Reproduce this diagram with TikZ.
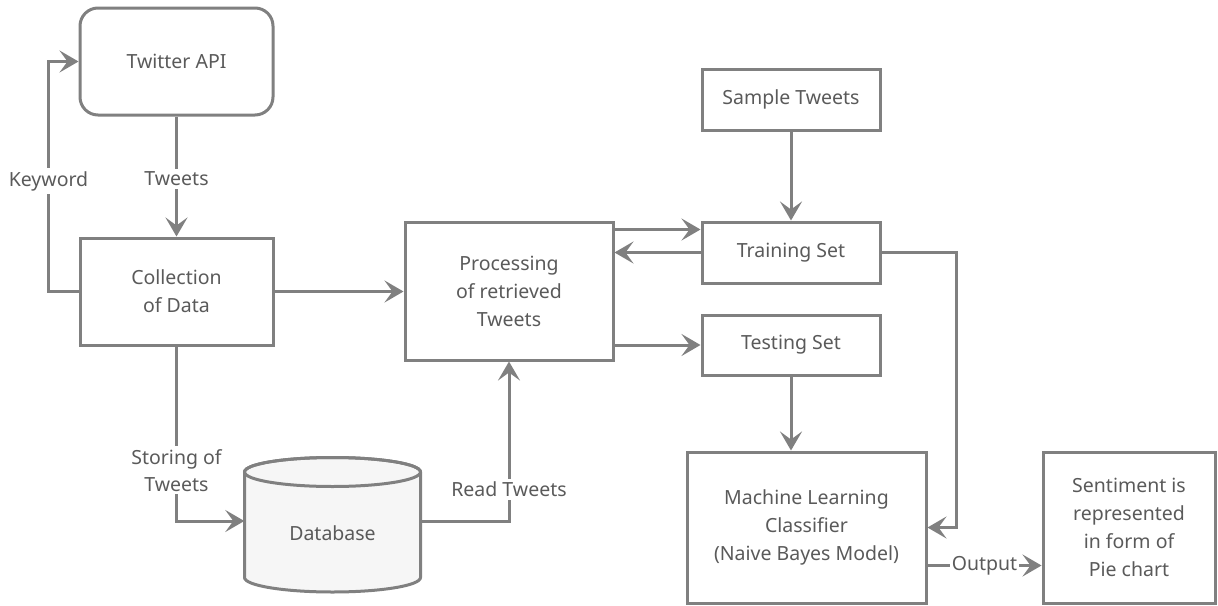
\documentclass[tikz,border=0pt]{standalone}
\usepackage{fontspec}
\setmainfont{Noto Sans}
\usetikzlibrary{arrows.meta}
\definecolor{linec}{HTML}{808080}
\definecolor{textc}{HTML}{5A5A5A}
\definecolor{dbfill}{HTML}{F6F6F6}
\begin{document}
\begin{tikzpicture}[x=1pt,y=-1pt,
  box/.style={draw=linec, line width=3pt, fill=white, text=textc, align=center,
    font=\fontsize{19.5}{28}\selectfont, inner sep=0pt},
  arr/.style={draw=linec, line width=3pt, -{Stealth[length=19pt,width=22pt,inset=8pt]}},
  ln/.style={draw=linec, line width=3pt},
  lbl/.style={fill=white, text=textc, align=center, font=\fontsize{19.5}{27}\selectfont, inner sep=3pt}
]
\useasboundingbox (0,0) rectangle (1218,605);

\node[box, rounded corners=18pt, minimum width=193pt, minimum height=107pt] (api) at (176.5,61.5) {Twitter API};
\node[box, minimum width=193pt, minimum height=107pt] (coll) at (176.5,291.5) {Collection\\of Data};
\node[box, minimum width=208pt, minimum height=138pt] (proc) at (509,291) {Processing\\of retrieved\\Tweets};
\node[box, minimum width=178pt, minimum height=61pt] (sample) at (791,99.5) {Sample Tweets};
\node[box, minimum width=178pt, minimum height=61pt] (train) at (791,252.5) {Training Set};
\node[box, minimum width=178pt, minimum height=60pt] (test) at (791,345) {Testing Set};
\node[box, minimum width=239pt, minimum height=151pt] (ml) at (806.5,527.5) {Machine Learning\\Classifier\\(Naive Bayes Model)};
\node[box, minimum width=172pt, minimum height=151pt] (sent) at (1129,527.5) {Sentiment is\\represented\\in form of\\Pie chart};

% database cylinder
\draw[ln, fill=dbfill] (244.5,472) -- (244.5,577.5)
  arc[start angle=180, end angle=0, x radius=88, y radius=14.5]
  -- (420.5,472)
  arc[start angle=0, end angle=-180, x radius=88, y radius=14.5] -- cycle;
\draw[ln] (332.5,472) ellipse[x radius=88, y radius=14.5];
\node[text=textc, font=\fontsize{19.5}{28}\selectfont, minimum width=176pt, inner sep=0pt] (db) at (332.5,533) {Database};

% connectors
\draw[arr] (coll.west) -- ++(-30,0) |- (api.west) node[lbl, pos=0.24] {Keyword};
\draw[arr] (api.south) -- (coll.north) node[lbl, pos=0.52] {Tweets};
\draw[arr] (coll.east) -- (coll.east -| proc.west);
\draw[arr] (sample.south) -- (train.north);
\draw[arr] ([yshift=-9pt]proc.north east) -- ([yshift=-9pt]train.north west);
\draw[arr] (train.west) -- (train.west -| proc.east);
\draw[arr] (test.west -| proc.east) -- (test.west);
\draw[arr] (train.east) -- ++(75,0) |- (ml.east);
\draw[arr] (test.south) -- (test.south |- ml.north);
\draw[arr] ([yshift=-38pt]ml.east) -- ([yshift=-38pt]sent.west) node[lbl, pos=0.5, inner sep=2pt] {Output};
\draw[arr] (coll.south) |- ([yshift=12pt]db.west) node[lbl, pos=0.355] {Storing of\\Tweets};
\draw[arr] ([yshift=12pt]db.east) -| (proc.south) node[lbl, pos=0.6] {Read Tweets};
\end{tikzpicture}
\end{document}
